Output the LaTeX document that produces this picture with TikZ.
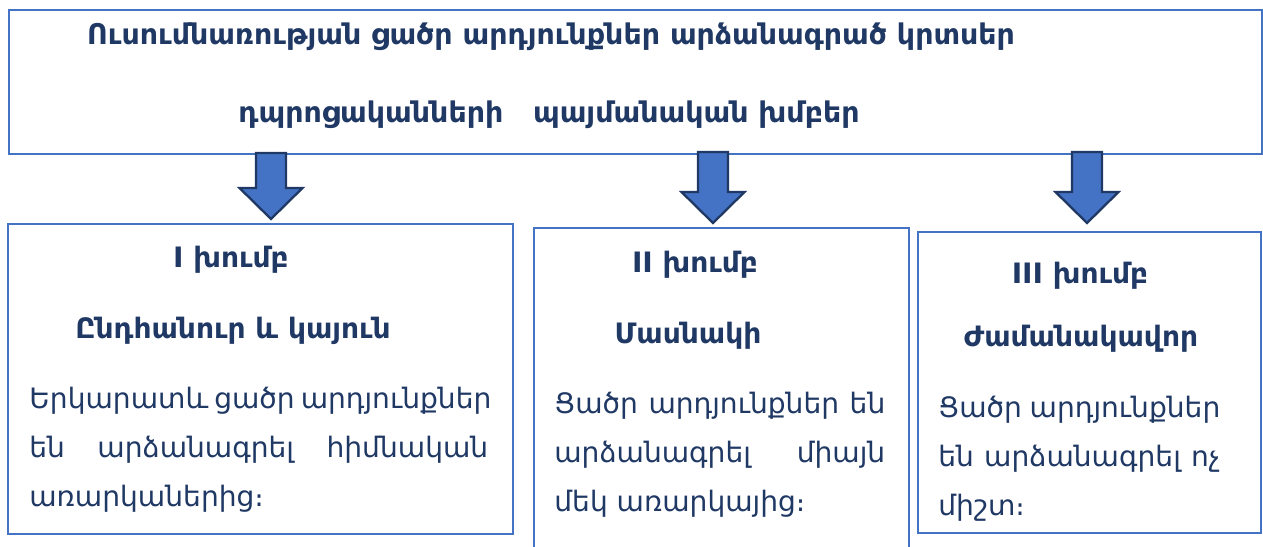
\documentclass[tikz,border=0pt]{standalone}
\usepackage{fontspec}
\setmainfont{DejaVu Sans}
\usetikzlibrary{calc}
\definecolor{frameblue}{HTML}{4472C4}
\definecolor{darknavy}{HTML}{1F3864}
\tikzstyle{frame}=[draw=frameblue, line width=1.2pt, inner sep=0pt, anchor=north west]
\tikzstyle{titletext}=[text=darknavy, inner sep=0pt, anchor=base, font=\bfseries\fontsize{16.2}{19}\selectfont]
\tikzstyle{headtext}=[text=darknavy, inner sep=0pt, anchor=base, font=\bfseries\fontsize{16}{19}\selectfont]
\tikzstyle{bodytext}=[text=darknavy, inner sep=0pt, anchor=base west, align=justify, font=\fontsize{16}{27.9}\selectfont]
\tikzstyle{blockarrow}=[fill=frameblue, draw=darknavy, line width=1.3pt]
\newcommand{\downblock}[2]{%
  \draw[blockarrow] ($(#1)+(-15,0)$) -- ($(#2)+(-15,-31)$) -- ($(#2)+(-31.5,-31)$) -- (#2)
    -- ($(#2)+(31.5,-31)$) -- ($(#2)+(15,-31)$) -- ($(#1)+(15,0)$) -- cycle;}
\newcommand{\fullline}[1]{\makebox[\linewidth][s]{#1}}

\begin{document}
\begin{tikzpicture}[x=0.02cm, y=-0.02cm]
  \clip (0,0) rectangle (1263,547);

  \draw node at (8,9) [frame, minimum width=25.06cm, minimum height=2.88cm] (top) {};
  \draw node at (7,223) [frame, minimum width=10.1cm, minimum height=6.2cm] (g1) {};
  \draw node at (533,227) [frame, minimum width=7.5cm, minimum height=7cm] (g2) {};
  \draw node at (917,231) [frame, minimum width=6.86cm, minimum height=6.02cm] (g3) {};

  \draw node at (551,45) [titletext] (title1) {Ուսումնառության ցածր արդյունքներ արձանագրած կրտսեր};
  \draw node at (549,123) [titletext] (title2) {դպրոցականների\ \ \ պայմանական խմբեր};

  % arrows from the top box
  \coordinate (a1) at (271,153);  \coordinate (t1) at (271,219);
  \coordinate (a2) at (713,152);  \coordinate (t2) at (713,223);
  \coordinate (a3) at (1087,152); \coordinate (t3) at (1087,223);
  \downblock{a1}{t1}
  \downblock{a2}{t2}
  \downblock{a3}{t3}

  \draw node at (231,267) [headtext] (h1) {I խումբ};
  \draw node at (233,338) [headtext] (n1) {Ընդհանուր և կայուն};
  \draw node at (29,408) [bodytext, text width=9.18cm] (b1)
    {\fullline{Երկարատև ցածր արդյունքներ}\\\fullline{են արձանագրել հիմնական}\\առարկաներից։};

  \draw node at (695,272) [headtext] (h2) {II խումբ};
  \draw node at (688,343) [headtext] (n2) {Մասնակի};
  \draw node at (554,413) [bodytext, text width=6.62cm] (b2)
    {\fullline{Ցածր արդյունքներ են}\\\fullline{արձանագրել միայն}\\մեկ առարկայից։};

  \draw node at (1080,283) [headtext] (h3) {III խումբ};
  \draw node at (1081,346) [headtext] (n3) {Ժամանակավոր};
  \draw node at (938,417) [bodytext, text width=5.64cm] (b3)
    {\fullline{Ցածր արդյունքներ}\\\fullline{են արձանագրել ոչ}\\միշտ։};
\end{tikzpicture}
\end{document}
